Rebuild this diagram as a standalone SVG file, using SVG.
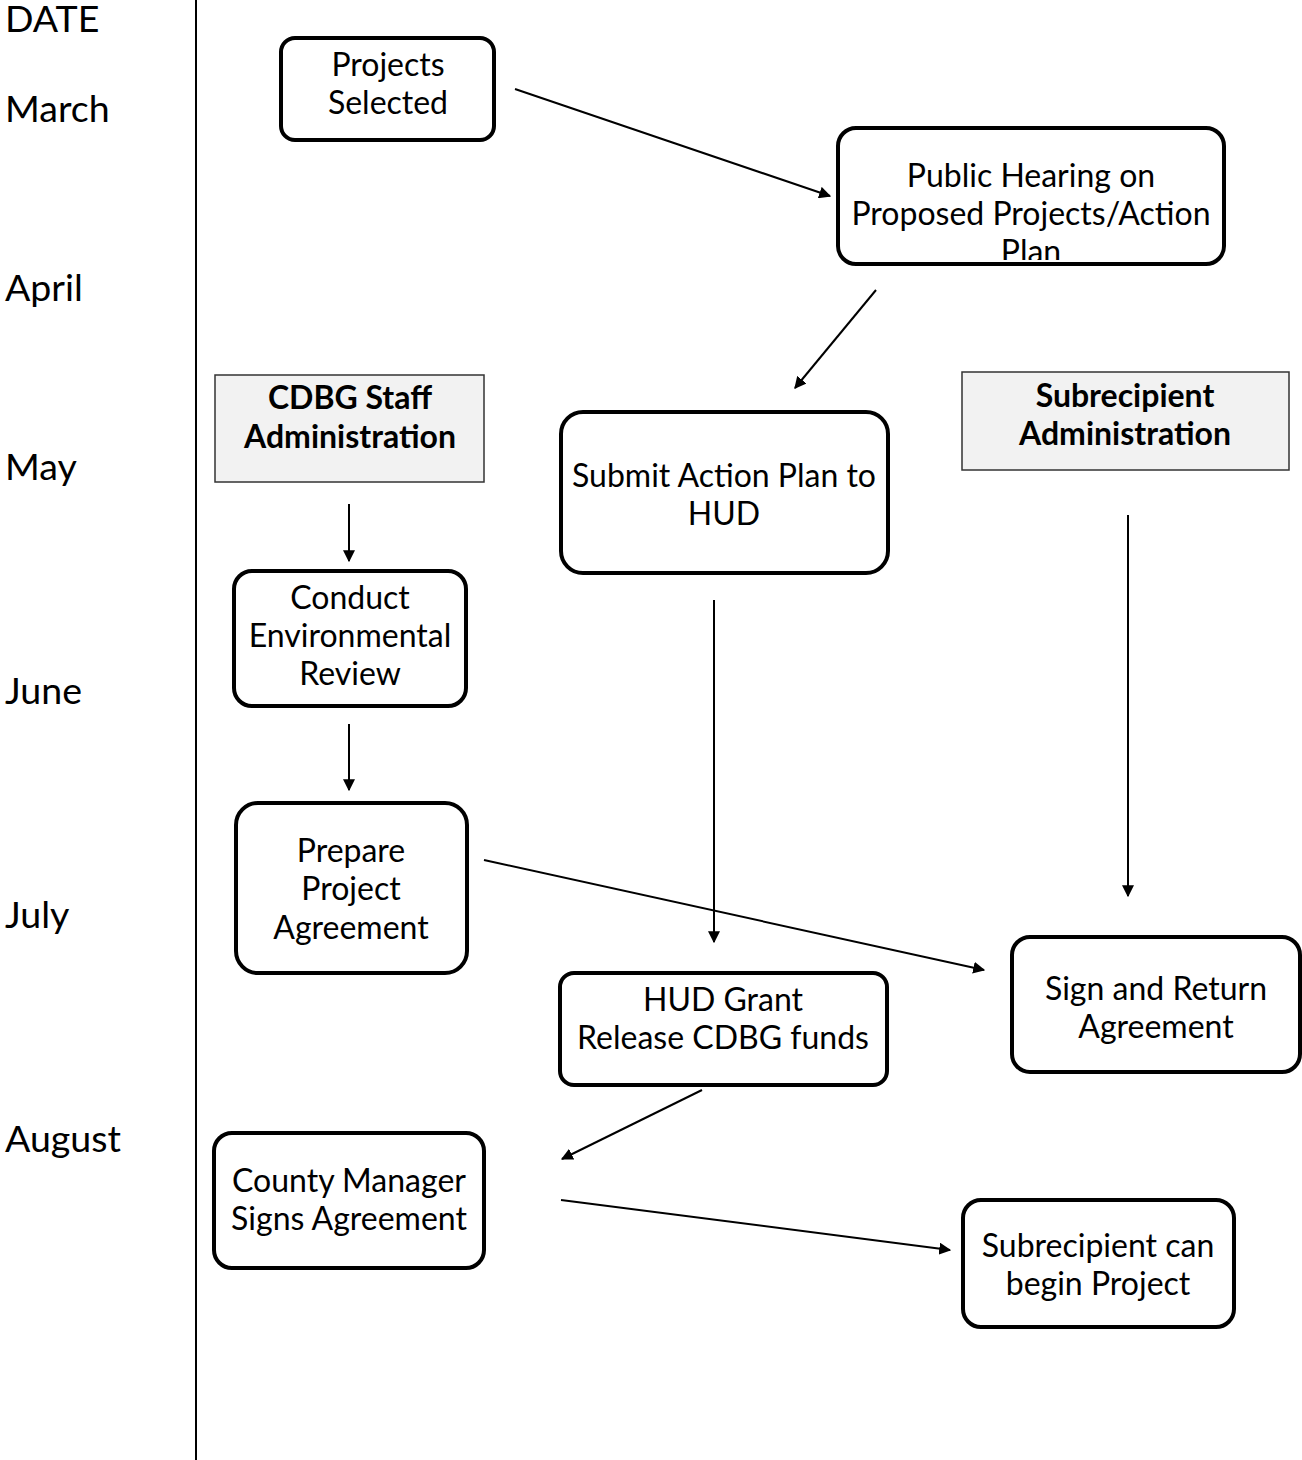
<svg xmlns="http://www.w3.org/2000/svg" width="1302" height="1460" viewBox="0 0 1302 1460">
<style>
.bg{fill:#fff}
.box{fill:#fff;stroke:#000;stroke-width:4}
.hdr{fill:#f2f2f2;stroke:#333;stroke-width:1.5}
.t{font-family:Lato,"Open Sans",sans-serif;font-size:32px;fill:#000;text-anchor:middle}
.b{font-weight:bold}
.m{font-family:Lato,"Open Sans",sans-serif;font-size:37.5px;fill:#000}
.c{stroke:#000;stroke-width:2;fill:none;marker-end:url(#ah)}
</style>
<defs>
<marker id="ah" viewBox="0 0 10 10" refX="9" refY="5" markerWidth="6" markerHeight="6" orient="auto" markerUnits="strokeWidth">
<path d="M0,0 L10,5 L0,10 z" fill="#000"/>
</marker>
<clipPath id="clipPH"><rect x="840" y="130" width="382" height="130"/></clipPath>
</defs>
<rect class="bg" x="0" y="0" width="1302" height="1460"/>
<g id="timeline">
<line x1="196" y1="0" x2="196" y2="1460" stroke="#000" stroke-width="2"/>
<text class="m" x="5" y="32">DATE</text>
<text class="m" x="5" y="122">March</text>
<text class="m" x="5" y="301">April</text>
<text class="m" x="5" y="480">May</text>
<text class="m" x="5" y="704">June</text>
<text class="m" x="5" y="928">July</text>
<text class="m" x="5" y="1152">August</text>
</g>
<g id="n-projects-selected">
<rect class="box" x="281" y="38" width="213" height="102" rx="14"/>
<text class="t" x="388" y="76">Projects</text>
<text class="t" x="388" y="114">Selected</text>
</g>
<g id="n-public-hearing">
<rect class="box" x="838" y="128" width="386" height="136" rx="18"/>
<g clip-path="url(#clipPH)">
<text class="t" x="1031" y="187">Public Hearing on</text>
<text class="t" x="1031" y="225">Proposed Projects/Action</text>
<text class="t" x="1031" y="263">Plan</text>
</g>
</g>
<g id="n-cdbg-staff">
<rect class="hdr" x="215" y="375" width="269" height="107"/>
<text class="t b" x="350" y="409">CDBG Staff</text>
<text class="t b" x="350" y="448">Administration</text>
</g>
<g id="n-submit-action-plan">
<rect class="box" x="561" y="412" width="327" height="161" rx="22"/>
<text class="t" x="724" y="487">Submit Action Plan to</text>
<text class="t" x="724" y="525">HUD</text>
</g>
<g id="n-subrecipient-admin">
<rect class="hdr" x="962" y="372" width="327" height="98"/>
<text class="t b" x="1125" y="407">Subrecipient</text>
<text class="t b" x="1125" y="445">Administration</text>
</g>
<g id="n-environmental-review">
<rect class="box" x="234" y="571" width="232" height="135" rx="18"/>
<text class="t" x="350" y="609">Conduct</text>
<text class="t" x="350" y="647">Environmental</text>
<text class="t" x="350" y="685">Review</text>
</g>
<g id="n-prepare-agreement">
<rect class="box" x="236" y="803" width="231" height="170" rx="22"/>
<text class="t" x="351" y="862">Prepare</text>
<text class="t" x="351" y="900">Project</text>
<text class="t" x="351" y="939">Agreement</text>
</g>
<g id="n-hud-grant">
<rect class="box" x="560" y="973" width="327" height="112" rx="14"/>
<text class="t" x="723" y="1011">HUD Grant</text>
<text class="t" x="723" y="1049">Release CDBG funds</text>
</g>
<g id="n-sign-return">
<rect class="box" x="1012" y="937" width="288" height="135" rx="18"/>
<text class="t" x="1156" y="1000">Sign and Return</text>
<text class="t" x="1156" y="1038">Agreement</text>
</g>
<g id="n-county-manager">
<rect class="box" x="214" y="1133" width="270" height="135" rx="18"/>
<text class="t" x="349" y="1192">County Manager</text>
<text class="t" x="349" y="1230">Signs Agreement</text>
</g>
<g id="n-begin-project">
<rect class="box" x="963" y="1200" width="271" height="127" rx="18"/>
<text class="t" x="1098" y="1257">Subrecipient can</text>
<text class="t" x="1098" y="1295">begin Project</text>
</g>
<g id="connectors">
<line class="c" x1="515" y1="89" x2="830" y2="196"/>
<line class="c" x1="876" y1="290" x2="795" y2="388"/>
<line class="c" x1="349" y1="504" x2="349" y2="561"/>
<line class="c" x1="349" y1="724" x2="349" y2="790"/>
<line class="c" x1="714" y1="600" x2="714" y2="942"/>
<line class="c" x1="1128" y1="515" x2="1128" y2="896"/>
<line class="c" x1="484" y1="860" x2="984" y2="970"/>
<line class="c" x1="702" y1="1090" x2="562" y2="1159"/>
<line class="c" x1="561" y1="1200" x2="950" y2="1250"/>
</g>
</svg>
